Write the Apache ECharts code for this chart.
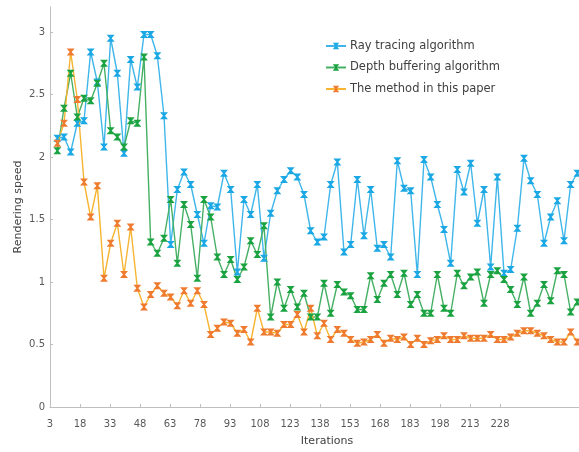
<!DOCTYPE html>
<html>
<head>
<meta charset="utf-8">
<style>
  html, body { margin: 0; padding: 0; background: #ffffff; }
  #chart { width: 579px; height: 452px; }
</style>
<script src="https://cdn.jsdelivr.net/npm/echarts@6/dist/echarts.min.js"></script>
</head>
<body>
<div id="chart"></div>
<script>
// Rendering speed per sample, one sample every 10/3 iterations
const rayTracing = [
  2.15, 2.16, 2.04, 2.27, 2.29, 2.84, 2.60, 2.08, 2.95, 2.67,
  2.03, 2.78, 2.56, 2.98, 2.98, 2.81, 2.33, 1.30, 1.74, 1.88,
  1.78, 1.54, 1.31, 1.61, 1.60, 1.87, 1.74, 1.08, 1.66, 1.54,
  1.78, 1.19, 1.55, 1.73, 1.82, 1.89, 1.84, 1.70, 1.41, 1.32,
  1.36, 1.78, 1.96, 1.24, 1.30, 1.82, 1.37, 1.74, 1.27, 1.30,
  1.20, 1.97, 1.75, 1.73, 1.06, 1.98, 1.84, 1.62, 1.42, 1.15,
  1.90, 1.72, 1.95, 1.47, 1.74, 1.12, 1.84, 1.07, 1.10, 1.43,
  1.99, 1.81, 1.70, 1.31, 1.52, 1.65, 1.33, 1.78, 1.87
];
const depthBuffering = [
  2.05, 2.39, 2.67, 2.32, 2.47, 2.45, 2.59, 2.75, 2.21, 2.16,
  2.08, 2.29, 2.27, 2.80, 1.32, 1.23, 1.35, 1.66, 1.15, 1.62,
  1.46, 1.03, 1.66, 1.52, 1.20, 1.06, 1.18, 1.02, 1.12, 1.33,
  1.22, 1.45, 0.72, 1.00, 0.79, 0.94, 0.80, 0.91, 0.72, 0.72,
  0.99, 0.75, 0.98, 0.92, 0.89, 0.78, 0.78, 1.05, 0.86, 0.99,
  1.06, 0.90, 1.07, 0.82, 0.90, 0.75, 0.75, 1.06, 0.79, 0.75,
  1.07, 0.97, 1.04, 1.08, 0.83, 1.06, 1.09, 1.02, 0.94, 0.82,
  1.04, 0.75, 0.83, 0.98, 0.85, 1.09, 1.06, 0.76, 0.84
];
const proposedMethod = [
  2.11, 2.27, 2.84, 2.46, 1.80, 1.52, 1.77, 1.03, 1.31, 1.47,
  1.06, 1.44, 0.95, 0.80, 0.90, 0.97, 0.91, 0.88, 0.81, 0.93,
  0.83, 0.93, 0.82, 0.58, 0.63, 0.68, 0.67, 0.59, 0.62, 0.52,
  0.79, 0.60, 0.60, 0.59, 0.66, 0.66, 0.74, 0.60, 0.79, 0.57,
  0.67, 0.54, 0.62, 0.59, 0.54, 0.51, 0.52, 0.54, 0.58, 0.51,
  0.55, 0.54, 0.56, 0.50, 0.55, 0.50, 0.53, 0.54, 0.57, 0.54,
  0.54, 0.57, 0.55, 0.55, 0.55, 0.58, 0.54, 0.54, 0.56, 0.59,
  0.61, 0.61, 0.59, 0.57, 0.54, 0.52, 0.52, 0.60, 0.52
];

const seriesNames = ['Ray tracing algorithm', 'Depth buffering algorithm', 'The method in this paper'];
const xTickLabels = [3, 18, 33, 48, 63, 78, 93, 108, 123, 138, 153, 168, 183, 198, 213, 228];
const yTickLabels = [0, 0.5, 1, 1.5, 2, 2.5, 3];

// sample position on the iteration axis
const sampleStep = 10 / 3;
const toPoints = values => values.map((v, i) => [(i + 2) * sampleStep, v]);

const FONT = 'DejaVu Sans';
const TEXT = '#595959';
const AXIS = '#bfbfbf';
// X-shaped marker with flat top and bottom
const MARK = 'path://M0,0H10L6.2,5L10,10H0L3.8,5Z';

function lineSeries(name, values, lineColor, markColor) {
  return {
    name: name,
    type: 'line',
    data: toPoints(values),
    symbol: MARK,
    symbolSize: [8, 7],
    showAllSymbol: true,
    lineStyle: { color: lineColor, width: 1.4 },
    itemStyle: { color: markColor, borderWidth: 0 },
    emphasis: { disabled: true },
    animation: false
  };
}

const chart = echarts.init(document.getElementById('chart'), null, { renderer: 'canvas' });
chart.setOption({
  backgroundColor: '#ffffff',
  textStyle: { fontFamily: FONT },
  // plot area runs past the right edge of the canvas
  grid: { left: 50, top: 7, bottom: 45, width: 554, containLabel: false, outerBoundsMode: 'none' },
  legend: {
    orient: 'vertical',
    left: 320,
    top: 35,
    itemWidth: 20,
    itemHeight: 8,
    itemGap: 9.5,
    textStyle: { fontFamily: FONT, fontSize: 11.5, color: '#404040', padding: [0, 0, 0, -1] },
    data: seriesNames
  },
  xAxis: {
    type: 'value',
    min: 3,
    max: 280,
    name: 'Iterations',
    nameLocation: 'middle',
    nameGap: 29,
    nameMoveOverlap: false,
    nameTextStyle: { fontFamily: FONT, fontSize: 11, color: '#404040' },
    axisLine: { show: true, lineStyle: { color: AXIS, width: 1 } },
    axisTick: { show: true, inside: true, length: 3, customValues: xTickLabels, lineStyle: { color: AXIS } },
    axisLabel: { customValues: xTickLabels, fontFamily: FONT, fontSize: 10, color: TEXT, margin: 12 },
    splitLine: { show: false }
  },
  yAxis: {
    type: 'value',
    min: 0,
    max: 3.2,
    name: 'Rendering speed',
    nameLocation: 'middle',
    nameGap: 26,
    nameMoveOverlap: false,
    nameTextStyle: { fontFamily: FONT, fontSize: 11, color: '#404040' },
    axisLine: { show: true, lineStyle: { color: AXIS, width: 1 } },
    axisTick: { show: true, inside: true, length: 3, customValues: yTickLabels, lineStyle: { color: AXIS } },
    axisLabel: { customValues: yTickLabels, fontFamily: FONT, fontSize: 10, color: TEXT, margin: 5 },
    splitLine: { show: false }
  },
  series: [
    lineSeries(seriesNames[0], rayTracing, '#3fb6ea', '#1ba8e4'),
    lineSeries(seriesNames[1], depthBuffering, '#45b064', '#1aa340'),
    lineSeries(seriesNames[2], proposedMethod, '#f6b431', '#ee7b30')
  ]
});
</script>
</body>
</html>
